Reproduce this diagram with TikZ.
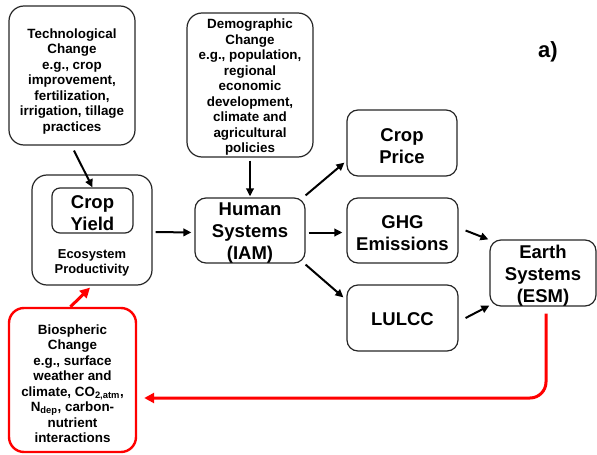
\documentclass[tikz,border=0pt]{standalone}
\usepackage{fontspec}
\setmainfont{Liberation Sans}
\usetikzlibrary{arrows.meta,calc}
\begin{document}
\begin{tikzpicture}[x=1pt,y=-1pt,
  box/.style={draw=black!85, line width=1.2pt, rounded corners=15pt, inner sep=0pt},
  redbox/.style={box, draw=red, line width=2.4pt},
  bigbox/.style={draw=black!85, line width=1.2pt, rounded corners=11pt, inner sep=0pt},
  smalltxt/.style={align=center, inner sep=0pt, font=\bfseries\fontsize{13.4}{15.5}\selectfont},
  bigtxt/.style={align=center, inner sep=0pt, font=\bfseries\fontsize{18.5}{22}\selectfont},
  txt/.style={align=center, inner sep=0pt, font=\bfseries\fontsize{12.9}{14.5}\selectfont},
  arr/.style={line width=2pt, -{Triangle[length=8pt,width=7.5pt]}},
  redarr/.style={draw=red, line width=3pt, -{Triangle[length=10pt,width=10pt]}},
]
\useasboundingbox (0,0) rectangle (597,455);

\node[box, minimum width=126pt, minimum height=139pt] (tech) at (72,75.5) {};
\node[smalltxt] (techtxt) at ([yshift=-6pt]tech.center)
  {Technological\\Change\\e.g., crop\\improvement,\\fertilization,\\irrigation, tillage\\practices};
\node[box, minimum width=126pt, minimum height=144pt] (demo) at (250,85) {};
\node[smalltxt] (demotxt) at ([yshift=-2.5pt]demo.center)
  {Demographic\\Change\\e.g., population,\\regional\\economic\\development,\\climate and\\agricultural\\policies};
\node[box, minimum width=120pt, minimum height=110pt] (eco) at (92,230) {};
\node[bigbox, rounded corners=8pt, minimum width=81pt, minimum height=45pt] (yield) at (92.5,210.5) {};
\node[bigtxt] (yieldtxt) at ([yshift=-3pt]yield.center) {Crop\\Yield};
\node[txt] (ecotxt) at (92,263) {Ecosystem\\Productivity};
\node[bigbox, minimum width=110pt, minimum height=65pt] (human) at (250,230.5) {};
\node[bigtxt] (humantxt) at ([yshift=-3pt]human.center) {Human\\Systems\\(IAM)};
\node[bigbox, minimum width=110pt, minimum height=66pt] (price) at (402,143) {};
\node[bigtxt] (pricetxt) at ([yshift=-3pt]price.center) {Crop\\Price};
\node[bigbox, minimum width=111pt, minimum height=65pt] (ghg) at (402.5,230.5) {};
\node[bigtxt] (ghgtxt) at ([yshift=-3pt]ghg.center) {GHG\\Emissions};
\node[bigbox, minimum width=111pt, minimum height=66pt] (lulcc) at (402.5,318) {};
\node[bigtxt] (lulcctxt) at ([yshift=-1pt]lulcc.center) {LULCC};
\node[bigbox, minimum width=106pt, minimum height=66pt] (earth) at (543,273) {};
\node[bigtxt] (earthtxt) at ([yshift=-3pt]earth.center) {Earth\\Systems\\(ESM)};
\node[redbox, minimum width=127pt, minimum height=144pt] (bio) at (72.5,380) {};
\node[smalltxt] (biotxt) at ([yshift=-3.5pt]bio.center)
  {Biospheric\\Change\\e.g., surface\\weather and\\climate, CO\textsubscript{2,atm},\\N\textsubscript{dep}, carbon-\\nutrient\\interactions};
\node[inner sep=0pt, font=\bfseries\fontsize{22}{24}\selectfont] (lbl) at (548,52) {a)};

\draw[arr] ([xshift=2pt,yshift=-5pt]tech.south) -- (yield.north);
\draw[arr] ([yshift=-3pt]demo.south) -- ([yshift=1pt]human.north);
\draw[arr] ([xshift=3pt,yshift=-2pt]eco.east) -- ([xshift=-3pt,yshift=-2pt]human.west);
\draw[arr] ([yshift=2pt]human.north east) -- ([xshift=-2pt,yshift=14pt]price.south west);
\draw[arr] ([xshift=3pt,yshift=-2pt]human.east) -- ([xshift=-4pt,yshift=-2pt]ghg.west);
\draw[arr] ([yshift=-1pt]human.south east) -- ([xshift=-3pt,yshift=-13pt]lulcc.north west);
\draw[arr] ([xshift=7pt]ghg.east) -- ([xshift=-1pt]earth.north west);
\draw[arr] ([xshift=7pt]lulcc.east) -- ([yshift=1pt]earth.south west);
\draw[redarr] ([xshift=-2pt]bio.north) -- ([xshift=-2pt,yshift=-2pt]eco.south);
\draw[redarr, rounded corners=16pt] ([xshift=3pt,yshift=-7pt]earth.south) |- ([xshift=7pt,yshift=-18pt]bio.east);
\end{tikzpicture}
\end{document}
